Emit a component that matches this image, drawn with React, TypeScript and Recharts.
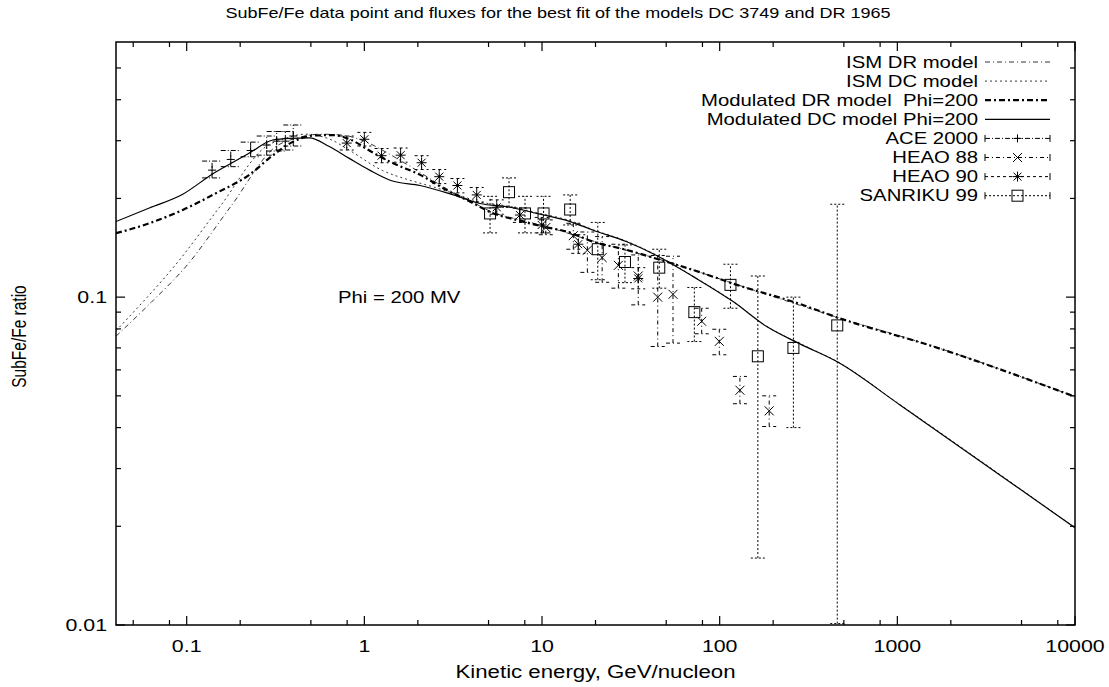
import React from 'react';
import { ComposedChart, Line, Scatter, XAxis, YAxis, ErrorBar, ReferenceArea } from 'recharts';

const FONT = '"Liberation Sans", Arial, Helvetica, sans-serif';
// the source picture is stretched sideways, so text is widened to match
const STRETCH = 1.27;
const W = 1109;
const H = 687;
const PLOT = { left: 116, right: 1075, top: 42, bottom: 625 };

// model curves: kinetic energy (GeV/nucleon) and SubFe/Fe ratio
const modDcE = [0.04, 0.0616, 0.095, 0.14, 0.178, 0.225, 0.305, 0.378, 0.49, 0.635, 0.822, 1.07, 1.44, 2.06, 3.17, 4.48, 6.61, 9.34, 14.4, 19.4, 30, 46, 71, 119, 184, 283, 459, 1035, 10000];
const modDcV = [0.17, 0.187, 0.206, 0.2375, 0.256, 0.275, 0.3015, 0.305, 0.306, 0.288, 0.265, 0.244, 0.226, 0.219, 0.205, 0.193, 0.188, 0.18, 0.17, 0.16, 0.1476, 0.1324, 0.1155, 0.0969, 0.0813, 0.072, 0.0635, 0.0469, 0.0198];

const modDrE = [0.04, 0.0616, 0.095, 0.146, 0.225, 0.306, 0.388, 0.514, 0.666, 0.844, 1.09, 1.42, 2.06, 2.91, 3.93, 5.32, 7.2, 10.2, 13.8, 19.4, 30, 46, 71, 125, 283, 459, 1594, 10000];
const modDrV = [0.1566, 0.168, 0.1845, 0.2074, 0.236, 0.271, 0.296, 0.311, 0.312, 0.3015, 0.278, 0.2575, 0.236, 0.212, 0.1956, 0.18, 0.172, 0.164, 0.1584, 0.1476, 0.1393, 0.13, 0.121, 0.109, 0.0953, 0.0867, 0.0707, 0.0497];

const ismDrE = [0.04, 0.063, 0.099, 0.177, 0.318, 0.42, 0.563, 0.75, 1.0, 1.4, 2.06, 2.91, 3.93, 5.32, 7.2, 10.2, 19.4, 46, 125, 459, 1594, 10000];
const ismDrV = [0.076, 0.0963, 0.124, 0.189, 0.288, 0.306, 0.314, 0.312, 0.299, 0.272, 0.24, 0.214, 0.197, 0.181, 0.173, 0.165, 0.1482, 0.1303, 0.1092, 0.0868, 0.0708, 0.0497];

const ismDcE = [0.04, 0.058, 0.085, 0.154, 0.28, 0.36, 0.463, 0.65, 0.82, 1.27, 1.77, 2.5, 3.2, 4.5, 6.6, 9.3, 14.4, 19.4, 30, 46, 71, 119, 184, 283, 459, 1035, 10000];
const ismDcV = [0.079, 0.098, 0.124, 0.189, 0.288, 0.305, 0.314, 0.302, 0.281, 0.243, 0.228, 0.216, 0.207, 0.195, 0.189, 0.181, 0.171, 0.1605, 0.148, 0.1327, 0.1157, 0.097, 0.0814, 0.0722, 0.0636, 0.047, 0.0198];

// measurements with error bar bounds
const aceE = [0.139, 0.177, 0.229, 0.282, 0.321, 0.359, 0.398];
const aceV = [0.244, 0.263, 0.28, 0.291, 0.299, 0.299, 0.31];
const aceLo = [0.231, 0.25, 0.268, 0.271, 0.279, 0.281, 0.289];
const aceHi = [0.26, 0.28, 0.297, 0.31, 0.32, 0.32, 0.335];

const h88E = [10.5, 15.0, 18.0, 21.8, 26.9, 34.8, 44.8, 54.6, 79.2, 99.5, 130, 190];
const h88V = [0.163, 0.154, 0.139, 0.132, 0.125, 0.116, 0.1, 0.102, 0.0844, 0.0733, 0.052, 0.045];
const h88Lo = [0.155, 0.14, 0.119, 0.111, 0.1065, 0.0947, 0.0707, 0.0724, 0.0773, 0.0667, 0.0473, 0.0403];
const h88Hi = [0.172, 0.168, 0.158, 0.153, 0.145, 0.1345, 0.134, 0.1333, 0.0925, 0.0798, 0.0573, 0.05];

const h90E = [0.796, 1.0, 1.25, 1.6, 2.1, 2.64, 3.34, 4.29, 5.56, 7.51, 9.96, 16.0, 34.8];
const h90V = [0.295, 0.303, 0.27, 0.271, 0.257, 0.233, 0.219, 0.205, 0.188, 0.178, 0.166, 0.145, 0.114];
const h90Lo = [0.281, 0.289, 0.257, 0.258, 0.245, 0.222, 0.208, 0.195, 0.179, 0.169, 0.157, 0.136, 0.106];
const h90Hi = [0.31, 0.318, 0.284, 0.285, 0.27, 0.245, 0.23, 0.216, 0.198, 0.187, 0.175, 0.155, 0.123];

const sanE = [5.1, 6.52, 8.02, 10.2, 14.4, 20.6, 29.3, 45.7, 72, 115, 164, 260, 459];
const sanV = [0.18, 0.209, 0.18, 0.18, 0.185, 0.14, 0.128, 0.123, 0.09, 0.109, 0.066, 0.07, 0.082];
const sanLo = [0.157, 0.188, 0.157, 0.157, 0.166, 0.113, 0.1107, 0.1065, 0.0732, 0.0925, 0.016, 0.04, 0.0101];
const sanHi = [0.203, 0.231, 0.203, 0.203, 0.205, 0.169, 0.1443, 0.14, 0.107, 0.126, 0.116, 0.1, 0.192];

// axis ticks
const xMajor = [0.1, 1, 10, 100, 1000, 10000];
const xTicks = [0.05, 0.08, 0.1, 0.2, 0.5, 0.8, 1, 2, 5, 8, 10, 20, 50, 80, 100, 200, 500, 800, 1000, 2000, 5000, 8000, 10000];
const yMajor = [0.01, 0.1];
const yTicks = [0.01, 0.02, 0.03, 0.04, 0.05, 0.06, 0.07, 0.08, 0.09, 0.1, 0.2, 0.3, 0.4, 0.5];

const curve = (xs: number[], ys: number[]) => xs.map((x, i) => ({ x, y: ys[i] }));
const withErr = (xs: number[], ys: number[], lo: number[], hi: number[]) =>
  xs.map((x, i) => ({ x, y: ys[i], err: [ys[i] - lo[i], hi[i] - ys[i]] }));

const isMajor = (v: number, majors: number[]) => majors.some((m) => Math.abs(Math.log10(v / m)) < 1e-6);

const StretchText = ({ x, y, anchor = 'middle', size = 16, children }: any) => (
  <text
    transform={`translate(${x},${y}) scale(${STRETCH},1)`}
    textAnchor={anchor}
    dominantBaseline="central"
    fontFamily={FONT}
    fontSize={size}
    fill="#000"
    style={{ whiteSpace: 'pre' }}
  >
    {children}
  </text>
);

const renderXTick = (props: any) => {
  const { x, y, payload } = props;
  const major = isMajor(payload.value, xMajor);
  const len = major ? 9 : 5;
  return (
    <g>
      <line x1={x} y1={y} x2={x} y2={y - len} stroke="#000" strokeWidth={1.2} />
      <line x1={x} y1={PLOT.top} x2={x} y2={PLOT.top + len} stroke="#000" strokeWidth={1.2} />
      {major && <StretchText x={x} y={y + 21} size={16.8}>{String(payload.value)}</StretchText>}
    </g>
  );
};

const renderYTick = (props: any) => {
  const { x, y, payload } = props;
  const major = isMajor(payload.value, yMajor);
  const len = major ? 9 : 5;
  return (
    <g>
      <line x1={x} y1={y} x2={x + len} y2={y} stroke="#000" strokeWidth={1.2} />
      <line x1={PLOT.right} y1={y} x2={PLOT.right - len} y2={y} stroke="#000" strokeWidth={1.2} />
      {major && <StretchText x={x - 9} y={y} anchor="end" size={16.8}>{String(payload.value)}</StretchText>}
    </g>
  );
};

const PlusMark = ({ cx, cy }: any) =>
  cx == null ? null : <path d={`M${cx - 4},${cy}h8M${cx},${cy - 4}v8`} stroke="#000" strokeWidth={1} fill="none" />;
const CrossMark = ({ cx, cy }: any) =>
  cx == null ? null : <path d={`M${cx - 4.5},${cy - 4.5}l9,9M${cx - 4.5},${cy + 4.5}l9,-9`} stroke="#000" strokeWidth={1} fill="none" />;
const StarMark = ({ cx, cy }: any) =>
  cx == null ? null : (
    <path
      d={`M${cx - 5},${cy}h10M${cx},${cy - 5}v10M${cx - 4},${cy - 4}l8,8M${cx - 4},${cy + 4}l8,-8`}
      stroke="#000"
      strokeWidth={1}
      fill="none"
    />
  );
const SquareMark = ({ cx, cy }: any) =>
  cx == null ? null : <rect x={cx - 5.5} y={cy - 5.5} width={11} height={11} stroke="#000" strokeWidth={1} fill="none" />;

const curves = [
  { name: 'ISM DR model', data: curve(ismDrE, ismDrV), dash: '5 3 1 3', width: 0.8 },
  { name: 'ISM DC model', data: curve(ismDcE, ismDcV), dash: '2 3', width: 0.8 },
  { name: 'Modulated DR model  Phi=200', data: curve(modDrE, modDrV), dash: '6 3 2 3', width: 2.2 },
  { name: 'Modulated DC model Phi=200', data: curve(modDcE, modDcV), dash: undefined, width: 1.2 },
];

const sets = [
  { name: 'ACE 2000', data: withErr(aceE, aceV, aceLo, aceHi), dash: '5 2 1 2', cap: 10, Mark: PlusMark },
  { name: 'HEAO 88', data: withErr(h88E, h88V, h88Lo, h88Hi), dash: '4 3 1 3', cap: 7, Mark: CrossMark },
  { name: 'HEAO 90', data: withErr(h90E, h90V, h90Lo, h90Hi), dash: '3 3', cap: 7, Mark: StarMark },
  { name: 'SANRIKU 99', data: withErr(sanE, sanV, sanLo, sanHi), dash: '2 2', cap: 7, Mark: SquareMark },
];

const KeyBox = () => {
  const textX = 978;
  const x1 = 985;
  const x2 = 1050;
  const rowY = (i: number) => 62 + i * 19.1;
  return (
    <g>
      {curves.map((c, i) => (
        <g key={c.name}>
          <StretchText x={textX} y={rowY(i)} anchor="end">{c.name}</StretchText>
          <line x1={x1} y1={rowY(i)} x2={x2} y2={rowY(i)} stroke="#000" strokeWidth={c.width} strokeDasharray={c.dash} />
        </g>
      ))}
      {sets.map((s, j) => {
        const i = j + curves.length;
        const y = rowY(i);
        const { Mark } = s;
        return (
          <g key={s.name}>
            <StretchText x={textX} y={y} anchor="end">{s.name}</StretchText>
            <line x1={x1} y1={y} x2={x2} y2={y} stroke="#000" strokeWidth={1} strokeDasharray={s.dash} />
            <line x1={x1} y1={y - 3.5} x2={x1} y2={y + 3.5} stroke="#000" strokeWidth={1} />
            <line x1={x2} y1={y - 3.5} x2={x2} y2={y + 3.5} stroke="#000" strokeWidth={1} />
            <Mark cx={(x1 + x2) / 2} cy={y} />
          </g>
        );
      })}
    </g>
  );
};

export default function App() {
  return (
    <div style={{ position: 'absolute', left: 0, top: 0, width: W, height: H, background: '#fff' }}>
      <ComposedChart width={W} height={H} margin={{ top: PLOT.top, right: W - PLOT.right, bottom: 32, left: 56 }}>
        <XAxis
          dataKey="x"
          type="number"
          scale="log"
          domain={[0.04, 10000]}
          allowDataOverflow
          ticks={xTicks}
          interval={0}
          height={30}
          tickSize={0}
          tickMargin={0}
          tickLine={false}
          axisLine={false}
          tick={renderXTick}
        />
        <YAxis
          dataKey="y"
          type="number"
          scale="log"
          domain={[0.01, 0.6]}
          allowDataOverflow
          ticks={yTicks}
          interval={0}
          width={60}
          tickSize={0}
          tickMargin={0}
          tickLine={false}
          axisLine={false}
          tick={renderYTick}
        />
        {curves.map((c) => (
          <Line
            key={c.name}
            data={c.data}
            dataKey="y"
            name={c.name}
            type="monotone"
            stroke="#000"
            strokeWidth={c.width}
            strokeDasharray={c.dash}
            dot={false}
            activeDot={false}
            isAnimationActive={false}
          />
        ))}
        {sets.map((s) => (
          <Scatter
            key={s.name}
            data={s.data}
            dataKey="y"
            name={s.name}
            shape={(p: any) => <s.Mark cx={p.cx} cy={p.cy} />}
            isAnimationActive={false}
          >
            <ErrorBar
              dataKey="err"
              direction="y"
              width={s.cap}
              stroke="#000"
              strokeWidth={1}
              strokeDasharray={s.dash}
              isAnimationActive={false}
            />
          </Scatter>
        ))}
        <ReferenceArea x1={0.04} x2={10000} y1={0.01} y2={0.6} fill="none" stroke="#000" strokeWidth={1.5} />
      </ComposedChart>
      <svg width={W} height={H} style={{ position: 'absolute', left: 0, top: 0, pointerEvents: 'none' }}>
        <StretchText x={558} y={13} size={14.2}>
          SubFe/Fe data point and fluxes for the best fit of the models DC 3749 and DR 1965
        </StretchText>
        <StretchText x={(PLOT.left + PLOT.right) / 2} y={672} size={17.5}>
          Kinetic energy, GeV/nucleon
        </StretchText>
        <text
          transform={`translate(19,${(PLOT.top + PLOT.bottom) / 2 + 3}) rotate(-90) scale(1,${STRETCH})`}
          textAnchor="middle"
          dominantBaseline="central"
          fontFamily={FONT}
          fontSize={15.5}
          fill="#000"
        >
          SubFe/Fe ratio
        </text>
        <StretchText x={338} y={297} anchor="start">Phi = 200 MV</StretchText>
        <KeyBox />
      </svg>
    </div>
  );
}
